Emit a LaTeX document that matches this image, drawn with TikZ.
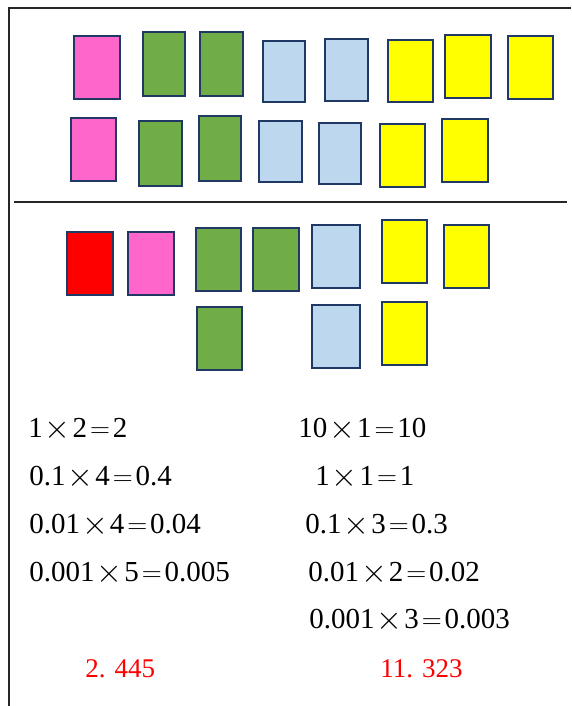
\documentclass[tikz,border=0pt]{standalone}
\usepackage{fontspec}
\setmainfont{Liberation Serif}
\usetikzlibrary{positioning}
\definecolor{tileedge}{RGB}{31,56,100}
\definecolor{tilepink}{RGB}{255,102,204}
\definecolor{tilegreen}{RGB}{112,173,71}
\definecolor{tileblue}{RGB}{189,215,238}
\definecolor{tileyellow}{RGB}{255,255,0}
\definecolor{tilered}{RGB}{255,0,0}
\newcommand{\mytimes}{\kern.07em\raisebox{-.05em}{\fontsize{26}{26}\selectfont$\times$}\kern.07em}
\newcommand{\myeq}{\kern.1em$=$\kern.1em}

\begin{document}
\begin{tikzpicture}[x=0.75pt,y=-0.75pt,
  tile/.style={draw=tileedge,line width=2.2pt},
  frame/.style={draw=black!85,line width=1pt},
  calc/.style={anchor=base west,inner sep=0pt,font=\fontsize{21.75}{26}\selectfont,text=black},
  total/.style={anchor=base west,inner sep=0pt,font=\fontsize{20.25}{24}\selectfont,text=tilered}]
\useasboundingbox (0,0) rectangle (571,706);
% frame and separator
\draw[frame] (571,8) -- (9,8) -- (9,706);
\draw[frame] (14,202) -- (567,202);
% tiles, upper part
\foreach \a/\b/\c/\d in {74/36/120/99, 71/118/116/181, 128/232/174/295}
  \draw[tile,fill=tilepink] (\a,\b) rectangle (\c,\d);
\foreach \a/\b/\c/\d in {143/32/185/96, 200/32/243/96, 139/121/182/186, 199/116/241/181,
                         196/228/241/291, 253/228/299/291, 197/307/242/370}
  \draw[tile,fill=tilegreen] (\a,\b) rectangle (\c,\d);
\foreach \a/\b/\c/\d in {263/41/305/102, 325/39/368/101, 259/121/302/182, 319/123/361/184,
                         312/225/360/288, 312/305/360/368}
  \draw[tile,fill=tileblue] (\a,\b) rectangle (\c,\d);
\foreach \a/\b/\c/\d in {388/40/433/102, 445/35/491/98, 508/36/553/99, 380/124/425/187,
                         442/119/488/182, 382/220/427/283, 444/225/489/288, 382/302/427/365}
  \draw[tile,fill=tileyellow] (\a,\b) rectangle (\c,\d);
\draw[tile,fill=tilered] (67,232) rectangle (113,295);
% left column
\node[calc](l1) at (28,437) {1\mytimes2\myeq2};
\node[calc](l2) at (29,485) {0.1\mytimes4\myeq0.4};
\node[calc](l3) at (29,533) {0.01\mytimes4\myeq0.04};
\node[calc](l4) at (29,581) {0.001\mytimes5\myeq0.005};
% right column
\node[calc](r1) at (298,437) {10\mytimes1\myeq10};
\node[calc](r2) at (315,485) {1\mytimes1\myeq1};
\node[calc](r3) at (305,533) {0.1\mytimes3\myeq0.3};
\node[calc](r4) at (308,581) {0.01\mytimes2\myeq0.02};
\node[calc](r5) at (309,628) {0.001\mytimes3\myeq0.003};
% sums
\node[total](sumL) at (85,677) {2. 445};
\node[total](sumR) at (380,677) {11. 323};
\end{tikzpicture}
\end{document}
